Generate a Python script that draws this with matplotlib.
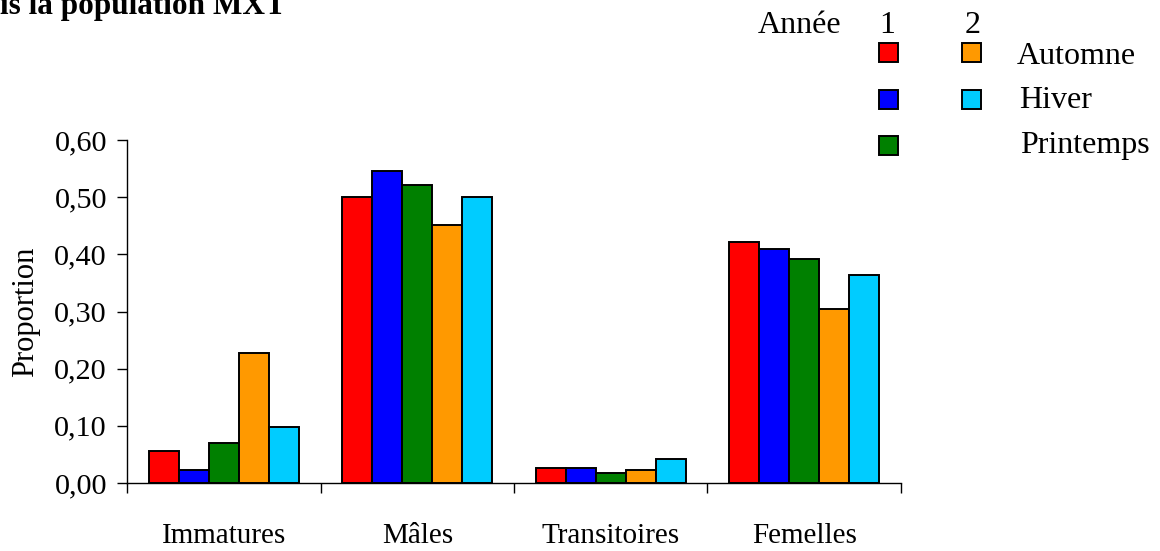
import matplotlib.pyplot as plt
from matplotlib.patches import Rectangle
import numpy as np

plt.rcParams['font.family'] = ['Liberation Serif', 'DejaVu Serif']

categories = ['Immatures', 'Mâles', 'Transitoires', 'Femelles']
series_names = ['Automne 1', 'Hiver 1', 'Printemps 1', 'Automne 2', 'Hiver 2']
colors = ['#FF0000', '#0000FF', '#008000', '#FF9900', '#00CCFF']

automne1 = [0.056, 0.500, 0.026, 0.421]
hiver1 = [0.023, 0.545, 0.026, 0.409]
printemps1 = [0.070, 0.521, 0.017, 0.392]
automne2 = [0.227, 0.451, 0.023, 0.304]
hiver2 = [0.098, 0.500, 0.042, 0.364]
series = [automne1, hiver1, printemps1, automne2, hiver2]

yticks = [0.0, 0.1, 0.2, 0.3, 0.4, 0.5, 0.6]
ytick_labels = ['0,00', '0,10', '0,20', '0,30', '0,40', '0,50', '0,60']

fig = plt.figure(figsize=(11.6, 5.51), dpi=100)
ax = fig.add_axes([0.1095, 0.1234, 0.6672, 0.6225])

centers = np.arange(len(categories)) + 0.5
w = 0.155
for i, (vals, c) in enumerate(zip(series, colors)):
    ax.bar(centers + (i - 2) * w, vals, width=w, color=c,
           edgecolor='black', linewidth=1.4, label=series_names[i])

ax.set_xlim(0, len(categories))
ax.set_ylim(0, 0.6)
ax.set_yticks(yticks)
ax.set_yticklabels(ytick_labels, fontsize=21.8)
ax.set_ylabel('Proportion', fontsize=22, labelpad=10)

# limites de groupes = graduations, noms de catégories en dessous
ax.set_xticks(np.arange(len(categories) + 1))
ax.set_xticklabels([])
ax.tick_params(axis='x', direction='out', length=7, width=1)
ax.tick_params(axis='y', direction='out', length=7.5, width=1, pad=7)
for c, name in zip(centers, categories):
    ax.annotate(name, xy=(c, 0), xycoords=('data', 'axes fraction'),
                xytext=(0, -43), textcoords='offset points',
                ha='center', va='baseline', fontsize=21)

for s in ['top', 'right']:
    ax.spines[s].set_visible(False)
for s in ['left', 'bottom']:
    ax.spines[s].set_linewidth(1)

# titre (coupé dans l'original)
fig.text(0.0, 1 - 14 / 551, 'is la population MXT', fontsize=22.5,
         fontweight='bold', va='baseline', ha='left')

# légende construite à la main
W, H = 1160, 551
def fx(px):
    return px / W
def fy(py):
    return 1 - py / H

fig.text(fx(758), fy(33), 'Année', fontsize=23, va='baseline')
fig.text(fx(887), fy(33), '1', fontsize=23, va='baseline', ha='center')
fig.text(fx(973), fy(33), '2', fontsize=23, va='baseline', ha='center')

sq = 19
legend_items = [
    (879, 43, colors[0]), (962, 43, colors[3]),
    (879, 90, colors[1]), (962, 90, colors[4]),
    (879, 136, colors[2]),
]
for px, py, c in legend_items:
    fig.add_artist(Rectangle((fx(px), fy(py + sq)), sq / W, sq / H,
                             transform=fig.transFigure, facecolor=c,
                             edgecolor='black', linewidth=1.4))

fig.text(fx(1017), fy(64), 'Automne', fontsize=23, va='baseline')
fig.text(fx(1019), fy(108), 'Hiver', fontsize=23, va='baseline')
fig.text(fx(1020), fy(153), 'Printemps', fontsize=23, va='baseline')

plt.savefig('out.png', dpi=100)
plt.close()
